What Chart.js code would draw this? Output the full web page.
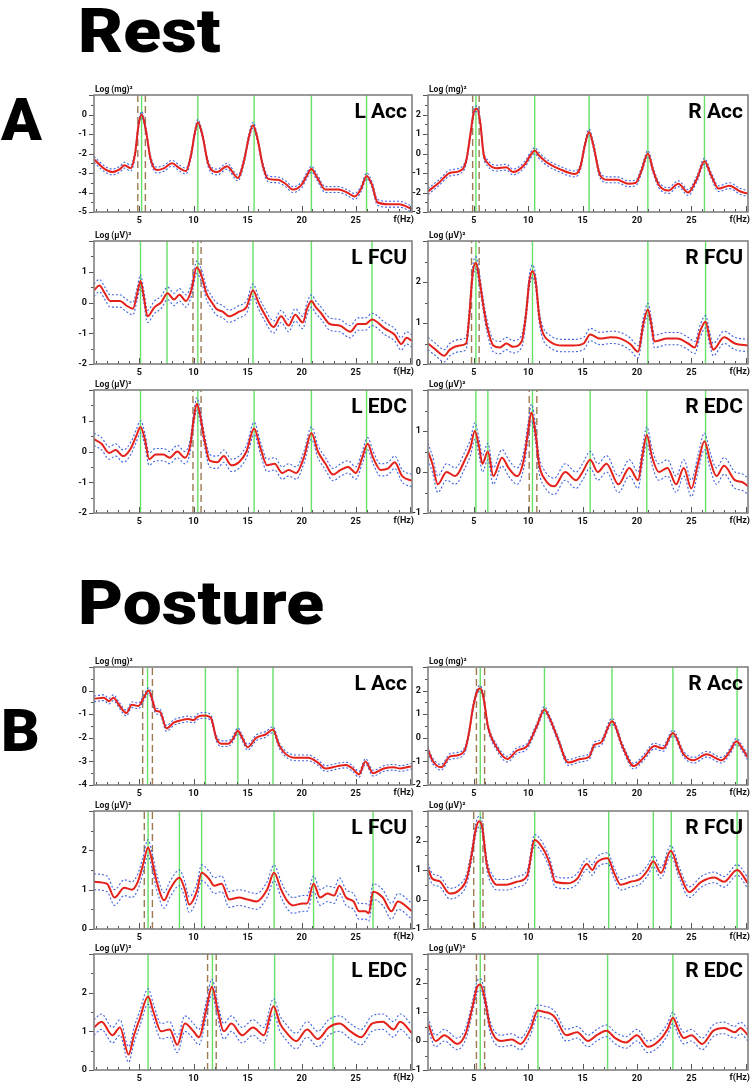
<!DOCTYPE html>
<html>
<head>
<meta charset="utf-8">
<script src="https://cdn.jsdelivr.net/npm/chart.js@4.4.1/dist/chart.umd.min.js"></script>
<style>
  body { margin: 0; background: #fff; }
  #wrap { position: relative; width: 751px; height: 1083px; overflow: hidden; font-family: Roboto, sans-serif; }
  .big { position: absolute; font-weight: 900; line-height: 1; color: #000; transform: scaleX(1.12); transform-origin: left top; }
  canvas { position: absolute; }
</style>
</head>
<body>
<div id="wrap">
  <div class="big" style="left:78px;top:0px;font-size:62px">Rest</div>
  <div class="big" style="left:1px;top:90px;font-size:60px;transform:none">A</div>
  <div class="big" style="left:78px;top:572px;font-size:62px">Posture</div>
  <div class="big" style="left:1px;top:701px;font-size:60px;transform:none">B</div>
</div>
<script>
// spectra: [frequency Hz, log power]
const restLAcc = [[0.8,-2.3],[1.8,-2.8],[2.5,-2.95],[3.2,-2.8],[3.6,-2.6],[4.2,-2.75],[4.6,-2.0],[4.9,-0.6],[5.2,0.0],[5.6,-0.8],[6.0,-2.2],[6.6,-2.85],[7.3,-2.75],[8.0,-2.5],[8.7,-2.75],[9.3,-2.9],[9.8,-2.0],[10.1,-1.0],[10.4,-0.4],[10.8,-1.0],[11.4,-2.6],[12.2,-2.95],[13.1,-2.65],[14.1,-3.25],[14.7,-2.3],[15.1,-1.2],[15.5,-0.55],[15.9,-1.2],[16.4,-2.6],[16.9,-3.3],[17.8,-3.35],[18.5,-3.55],[19.2,-3.85],[20.0,-3.6],[20.5,-3.1],[20.9,-2.8],[21.4,-3.2],[22.2,-3.85],[23.4,-3.85],[24.2,-4.0],[24.9,-4.2],[25.5,-3.8],[26.0,-3.15],[26.5,-3.6],[27.0,-4.5],[28.0,-4.6],[29.0,-4.6],[30.2,-4.85]];
const restRAcc = [[0.8,-1.95],[1.8,-1.5],[2.8,-1.0],[3.7,-0.9],[4.3,-0.4],[4.7,1.0],[5.0,2.1],[5.3,2.3],[5.6,1.6],[5.9,0.0],[6.3,-0.5],[7.1,-0.75],[8.0,-0.7],[8.6,-0.95],[9.7,-0.55],[10.2,-0.1],[10.6,0.15],[11.0,-0.1],[11.7,-0.45],[12.9,-0.8],[14.3,-1.05],[14.8,-0.7],[15.2,0.4],[15.6,1.1],[16.0,0.4],[16.6,-1.1],[17.3,-1.35],[18.2,-1.35],[19.2,-1.55],[19.9,-1.5],[20.4,-0.9],[21.0,0.0],[21.5,-0.9],[22.0,-1.6],[22.9,-1.9],[23.8,-1.55],[24.7,-2.0],[25.5,-1.3],[26.2,-0.4],[26.8,-1.1],[27.5,-1.8],[28.5,-1.65],[29.5,-1.95],[30.2,-2.05]];
const restLFcu = [[0.8,0.4],[1.3,0.55],[1.8,0.3],[2.3,0.05],[3.2,0.05],[3.8,-0.1],[4.4,-0.2],[4.8,0.3],[5.1,0.7],[5.4,0.2],[5.75,-0.45],[6.4,-0.15],[7.0,0.0],[7.6,0.3],[8.2,0.1],[8.7,0.25],[9.3,0.05],[9.8,0.4],[10.3,1.15],[10.8,0.8],[11.2,0.3],[11.7,0.0],[12.1,-0.2],[12.7,-0.3],[13.3,-0.45],[14.2,-0.3],[14.9,-0.15],[15.5,0.4],[16.0,0.0],[16.6,-0.4],[17.4,-0.8],[18.1,-0.45],[18.8,-0.75],[19.4,-0.4],[20.1,-0.65],[20.5,-0.2],[20.9,0.05],[21.3,-0.15],[21.8,-0.35],[22.6,-0.7],[23.5,-0.75],[24.5,-0.95],[25.2,-0.7],[25.9,-0.7],[26.5,-0.55],[27.7,-0.85],[28.6,-1.05],[29.2,-1.35],[29.7,-1.15],[30.2,-1.25]];
const restRFcu = [[0.8,0.5],[1.5,0.35],[2.3,0.2],[2.8,0.35],[3.7,0.45],[4.3,0.5],[4.6,1.2],[4.9,2.2],[5.2,2.47],[5.5,2.1],[5.9,1.4],[6.2,0.95],[6.8,0.45],[7.4,0.4],[8.0,0.5],[8.6,0.42],[9.4,0.55],[9.8,1.2],[10.1,2.0],[10.4,2.27],[10.7,2.0],[11.0,1.2],[11.3,0.8],[12.0,0.55],[13.2,0.45],[14.1,0.45],[15.1,0.5],[15.7,0.72],[16.6,0.62],[17.6,0.65],[18.5,0.62],[19.4,0.48],[20.1,0.3],[20.6,1.0],[21.0,1.33],[21.3,1.0],[21.6,0.55],[22.8,0.62],[23.7,0.62],[24.7,0.5],[25.3,0.4],[25.8,0.8],[26.3,1.03],[26.7,0.6],[27.0,0.35],[28.0,0.65],[29.0,0.5],[30.2,0.45]];
const restLEdc = [[0.8,0.4],[1.5,0.25],[2.2,-0.05],[2.8,0.05],[3.5,-0.15],[4.2,0.1],[4.7,0.5],[5.1,0.8],[5.5,0.4],[5.9,-0.25],[6.5,-0.1],[7.2,-0.1],[7.8,-0.2],[8.5,0.0],[9.2,-0.2],[9.7,0.2],[10.0,1.0],[10.3,1.55],[10.6,1.2],[11.0,0.4],[11.5,-0.3],[12.2,-0.35],[12.8,-0.15],[13.5,-0.45],[14.2,-0.35],[14.9,0.0],[15.6,0.75],[16.2,0.1],[16.8,-0.45],[17.5,-0.4],[18.2,-0.7],[18.8,-0.6],[19.5,-0.7],[20.2,-0.2],[20.9,0.6],[21.5,0.0],[22.2,-0.4],[22.9,-0.75],[23.6,-0.6],[24.3,-0.5],[25.0,-0.7],[25.6,-0.2],[26.1,0.25],[26.6,-0.2],[27.3,-0.6],[28.0,-0.55],[28.6,-0.35],[29.3,-0.8],[30.2,-0.95]];
const restREdc = [[0.8,0.5],[1.2,0.2],[1.7,-0.3],[2.5,0.0],[3.3,-0.1],[4.2,0.3],[4.7,0.6],[5.1,1.0],[5.5,0.6],[5.8,0.2],[6.3,0.5],[6.8,-0.1],[7.6,0.35],[8.2,0.1],[9.0,-0.1],[9.6,0.3],[10.0,1.0],[10.3,1.45],[10.7,0.9],[11.0,0.2],[11.6,-0.2],[12.4,-0.35],[13.4,0.0],[14.4,-0.2],[15.0,0.0],[15.7,0.3],[16.4,0.0],[17.2,0.2],[18.3,-0.3],[19.3,0.1],[20.1,-0.2],[20.5,0.4],[20.9,0.9],[21.4,0.35],[22.0,0.0],[22.8,0.1],[23.6,-0.3],[24.3,0.1],[25.0,-0.4],[25.6,0.2],[26.2,0.75],[26.7,0.3],[27.3,-0.1],[28.0,0.15],[29.0,-0.2],[29.7,-0.25],[30.2,-0.35]];
const postLAcc = [[0.8,-0.35],[1.7,-0.3],[2.2,-0.45],[2.6,-0.3],[3.1,-0.6],[3.8,-0.95],[4.3,-0.6],[4.9,-0.65],[5.4,-0.3],[5.85,0.0],[6.2,-0.4],[6.5,-0.85],[6.9,-0.9],[7.5,-1.6],[8.2,-1.35],[8.9,-1.25],[9.5,-1.2],[10.0,-1.25],[10.4,-1.1],[11.0,-1.05],[11.6,-1.15],[12.1,-2.0],[12.55,-2.25],[13.2,-2.25],[13.65,-2.05],[14.1,-1.7],[14.5,-2.0],[15.0,-2.4],[15.8,-2.0],[16.7,-1.85],[17.35,-1.65],[17.9,-2.3],[18.7,-2.75],[19.65,-2.85],[20.6,-2.85],[21.5,-3.05],[22.2,-3.3],[23.3,-3.2],[24.1,-3.15],[24.7,-3.3],[25.3,-3.55],[25.9,-3.0],[26.6,-3.5],[27.6,-3.3],[28.5,-3.25],[29.1,-3.3],[30.2,-3.2]];
const postRAcc = [[0.8,-0.5],[1.2,-0.95],[2.0,-1.25],[2.8,-0.8],[3.4,-0.75],[4.2,-0.5],[4.6,0.3],[4.9,1.2],[5.3,1.95],[5.6,2.1],[5.9,1.7],[6.3,0.5],[7.1,-0.4],[8.1,-0.9],[8.95,-0.55],[9.9,-0.35],[10.8,0.5],[11.5,1.2],[12.0,0.8],[12.7,0.0],[13.7,-1.05],[14.8,-0.9],[15.6,-0.8],[16.1,-0.3],[16.7,-0.2],[17.7,0.7],[18.7,-0.4],[19.7,-1.2],[20.6,-0.85],[21.6,-0.35],[22.4,-0.45],[23.3,0.2],[24.3,-0.7],[25.2,-0.95],[26.4,-0.7],[27.8,-0.95],[28.5,-0.6],[29.15,-0.15],[29.6,-0.4],[30.2,-0.85]];
const postLFcu = [[0.8,1.2],[2.0,1.15],[2.7,0.8],[3.6,1.05],[4.3,1.0],[4.85,1.2],[5.3,1.6],[5.8,2.07],[6.2,1.7],[6.6,1.2],[7.3,0.73],[7.8,1.0],[8.7,1.3],[9.2,1.0],[9.6,0.62],[10.3,0.95],[10.75,1.43],[11.5,1.25],[11.9,1.1],[12.6,1.15],[13.3,0.75],[14.2,0.8],[15.0,0.75],[15.8,0.7],[16.8,1.0],[17.45,1.43],[18.1,1.0],[18.7,0.7],[19.2,0.6],[20.1,0.65],[20.5,0.65],[21.1,1.15],[21.7,0.8],[22.4,0.9],[23.0,0.85],[23.5,1.1],[24.1,0.8],[24.8,0.7],[25.3,0.45],[25.9,0.45],[26.2,0.4],[26.6,0.95],[27.5,0.8],[28.3,0.45],[28.9,0.7],[30.2,0.45]];
const postRFcu = [[0.8,1.05],[1.2,0.7],[1.85,0.62],[2.8,0.2],[3.6,0.3],[4.35,0.7],[4.8,1.5],[5.2,2.4],[5.5,2.65],[5.8,2.4],[6.2,1.2],[6.8,0.6],[7.1,0.5],[8.0,0.5],[8.95,0.6],[9.9,0.8],[10.6,2.02],[11.4,1.7],[12.0,1.2],[12.5,0.6],[13.6,0.55],[14.5,0.7],[15.4,1.2],[15.9,1.0],[16.3,1.25],[17.3,1.4],[17.9,0.9],[18.5,0.5],[19.4,0.6],[20.3,0.7],[21.0,1.0],[21.5,1.3],[22.2,0.9],[23.1,1.65],[23.9,0.9],[24.8,0.25],[25.9,0.6],[27.1,0.75],[28.0,0.6],[29.2,1.0],[30.2,0.55]];
const postLEdc = [[0.8,1.1],[1.5,1.25],[2.5,0.9],[3.2,1.1],[4.0,0.4],[4.5,0.9],[5.0,1.3],[5.8,1.9],[6.3,1.5],[7.0,1.0],[7.8,1.05],[8.5,0.65],[9.2,1.2],[10.0,1.0],[10.5,0.85],[11.2,1.6],[11.7,2.15],[12.2,1.6],[12.8,1.0],[13.5,1.2],[14.5,0.9],[15.5,1.1],[16.5,0.9],[17.4,1.65],[18.0,1.2],[18.5,1.0],[19.5,0.75],[20.5,1.05],[21.5,0.8],[22.5,1.1],[23.5,1.2],[24.5,1.0],[25.5,0.85],[26.5,1.2],[27.5,1.25],[28.5,1.05],[29.1,1.25],[30.2,0.95]];
const postREdc = [[0.8,0.6],[1.5,0.0],[2.3,0.2],[3.5,-0.1],[4.3,0.3],[4.9,1.2],[5.3,1.85],[5.6,1.95],[6.0,1.5],[6.5,0.5],[7.5,0.0],[8.5,0.05],[9.3,-0.1],[10.2,0.4],[10.9,1.05],[11.5,1.0],[12.0,0.95],[12.5,0.8],[13.5,0.2],[14.5,0.3],[15.5,0.0],[16.3,0.2],[17.2,0.35],[18.0,0.1],[19.0,-0.05],[20.0,0.2],[21.0,-0.2],[22.0,0.0],[22.8,0.4],[23.3,0.8],[23.8,0.4],[24.3,0.1],[25.0,0.2],[26.0,-0.1],[27.0,0.35],[28.0,0.45],[29.0,0.3],[29.5,0.45],[30.2,0.2]];

// confidence band half width (log units)
const bands = [0.15, 0.15, 0.2, 0.15, 0.2, 0.2, 0.12, 0.12, 0.2, 0.18, 0.2, 0.2];

// harmonic peaks (green) and tremor frequency interval (dashed)
const greens = [
  [5.2, 10.4, 15.6, 20.9, 26.0], [5.2, 10.6, 15.6, 21.0, 26.2],
  [5.1, 7.55, 10.4, 15.5, 20.9, 26.5], [5.2, 10.4, 21.0, 26.3],
  [5.1, 10.4, 15.6, 20.9, 26.0], [5.2, 6.3, 10.4, 15.7, 20.9, 26.3],
  [5.75, 11.1, 14.1, 17.35], [5.6, 11.5, 17.7, 23.3, 29.2],
  [5.8, 8.7, 10.75, 17.45, 21.1, 26.6], [5.6, 10.6, 17.4, 21.5, 23.15, 29.2],
  [5.8, 11.75, 17.5, 22.9], [5.6, 10.9, 17.3, 23.3]
];
const dashed = [
  [4.85, 5.55], [4.9, 5.5], [9.95, 10.7], [4.8, 5.5], [9.95, 10.7], [10.1, 10.8],
  [5.3, 6.2], [5.25, 6.0], [5.45, 6.2], [5.0, 5.85], [11.3, 12.1], [5.25, 6.0]
];

const names = ['L Acc', 'R Acc', 'L FCU', 'R FCU', 'L EDC', 'R EDC', 'L Acc', 'R Acc', 'L FCU', 'R FCU', 'L EDC', 'R EDC'];
const units = ['Log (mg)²', 'Log (mg)²', 'Log (µV)²', 'Log (µV)²', 'Log (µV)²', 'Log (µV)²',
               'Log (mg)²', 'Log (mg)²', 'Log (µV)²', 'Log (µV)²', 'Log (µV)²', 'Log (µV)²'];
const yMin = [-5, -3, -2, 0, -2, -1, -4, -2, 0, -1, 0, -1];
const yMax = [1, 3, 2, 3, 2, 2, 1, 3, 3, 3, 3, 3];
const xTicks = [5, 10, 15, 20, 25];
const series = [restLAcc, restRAcc, restLFcu, restRFcu, restLEdc, restREdc, postLAcc, postRAcc, postLFcu, postRFcu, postLEdc, postREdc];

// panel boxes (plot area) : left, top, width, height
const cols = [[94, 318], [428, 320]];
const rows = [[95, 117], [241, 123], [390, 123], [667, 118], [811, 118], [954, 116]];

Chart.defaults.font.family = 'Roboto';

const framePlugin = {
  id: 'framePlugin',
  afterDraw(chart, args, o) {
    const { ctx, chartArea: a, scales: { x, y } } = chart;
    ctx.save();
    ctx.strokeStyle = '#555';
    ctx.lineWidth = 1;
    ctx.beginPath();
    for (let f = 1; f <= 30; f++) {
      const px = Math.round(x.getPixelForValue(f)) + 0.5;
      ctx.moveTo(px, a.bottom);
      ctx.lineTo(px, a.bottom - (f % 5 ? 3 : 6));
    }
    for (let v = y.min; v <= y.max; v += 0.5) {
      const py = Math.round(y.getPixelForValue(v)) + 0.5;
      ctx.moveTo(a.left, py);
      ctx.lineTo(a.left - (Number.isInteger(v) ? 5 : 3), py);
    }
    ctx.stroke();
    ctx.strokeStyle = '#808080';
    ctx.lineWidth = 1.6;
    ctx.strokeRect(a.left, a.top, a.right - a.left, a.bottom - a.top);

    ctx.fillStyle = '#111';
    ctx.font = 'bold 9px Roboto';
    ctx.textAlign = 'right';
    ctx.textBaseline = 'middle';
    ctx.fillText('f(Hz)', a.right + 2, a.bottom + 8);
    ctx.font = 'bold 8.5px Roboto';
    ctx.textAlign = 'left';
    ctx.textBaseline = 'alphabetic';
    ctx.fillText(o.unit, a.left + 1, a.top - 3);
    ctx.fillStyle = '#000';
    ctx.font = 'bold 21px Roboto';
    ctx.textAlign = 'right';
    ctx.fillText(o.name, a.right - 5, a.top + 23);
    ctx.restore();
  }
};

function vline(f, i, color, dash) {
  return {
    data: [{ x: f, y: yMin[i] }, { x: f, y: yMax[i] }],
    borderColor: color, borderWidth: 1.4, borderDash: dash, pointRadius: 0
  };
}

function panel(i) {
  const [left, w] = cols[i % 2];
  const [top, h] = rows[Math.floor(i / 2)];
  const cv = document.createElement('canvas');
  cv.width = w + 45; cv.height = h + 28;
  cv.style.left = (left - 42) + 'px';
  cv.style.top = (top - 14) + 'px';
  document.getElementById('wrap').appendChild(cv);

  const pts = series[i].map(p => ({ x: p[0], y: p[1] }));
  const up = series[i].map(p => ({ x: p[0], y: p[1] + bands[i] }));
  const lo = series[i].map(p => ({ x: p[0], y: p[1] - bands[i] }));
  const ds = [
    { data: pts, borderColor: '#e5211b', borderWidth: 2, pointRadius: 0, cubicInterpolationMode: 'monotone' },
    { data: up, borderColor: '#4062e0', borderWidth: 1.1, borderDash: [2, 2], pointRadius: 0, cubicInterpolationMode: 'monotone' },
    { data: lo, borderColor: '#4062e0', borderWidth: 1.1, borderDash: [2, 2], pointRadius: 0, cubicInterpolationMode: 'monotone' }
  ];
  greens[i].forEach(f => ds.push(vline(f, i, '#66e066', [])));
  dashed[i].forEach(f => ds.push(vline(f, i, '#9c7b52', [7, 4])));

  new Chart(cv, {
    type: 'line',
    data: { datasets: ds },
    options: {
      responsive: false, animation: false,
      layout: { padding: { top: 14, right: 3, left: 0, bottom: 0 } },
      plugins: { legend: { display: false }, tooltip: { enabled: false },
                 framePlugin: { name: names[i], unit: units[i] } },
      scales: {
        x: {
          type: 'linear', min: 0.8, max: 30.2,
          grid: { display: false, drawTicks: false }, border: { display: false },
          afterBuildTicks: s => { s.ticks = xTicks.map(v => ({ value: v })); },
          afterFit: s => { s.height = 14; },
          ticks: { padding: 3, color: '#111', font: { size: 9, weight: 'bold' }, maxRotation: 0 }
        },
        y: {
          min: yMin[i], max: yMax[i],
          grid: { display: false, drawTicks: false }, border: { display: false },
          afterFit: s => { s.width = 42; },
          ticks: { stepSize: 1, padding: 7, color: '#111', font: { size: 9, weight: 'bold' },
                   callback: v => v === yMax[i] ? '' : v }
        }
      }
    },
    plugins: [framePlugin]
  });
}

for (let i = 0; i < 12; i++) panel(i);
</script>
</body>
</html>
